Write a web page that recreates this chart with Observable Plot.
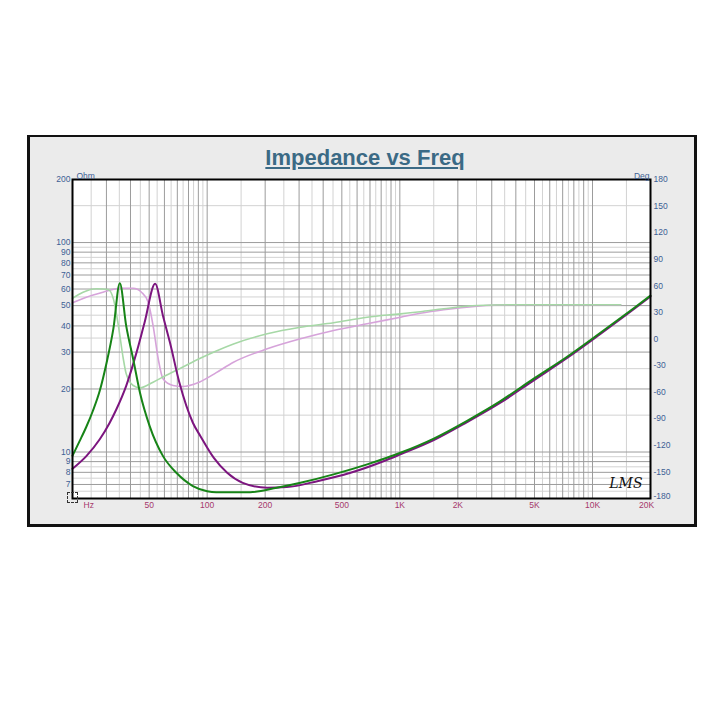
<!DOCTYPE html>
<html><head><meta charset="utf-8">
<script src="https://cdn.jsdelivr.net/npm/d3@7"></script>
<script src="https://cdn.jsdelivr.net/npm/@observablehq/plot@0.6"></script>
<style>
body{margin:0;background:#fff;width:723px;height:727px;position:relative;overflow:hidden;font-family:"Liberation Sans",Arial,sans-serif}
#panel{position:absolute;left:27px;top:135px;width:670px;height:392px;box-sizing:border-box;border:3px solid #111;border-top-width:2px;background:#ebebeb}
#title{position:absolute;left:27px;width:676px;top:145px;line-height:25px;text-align:center;font-weight:bold;font-size:22px;color:#3b6a85;text-decoration:underline}
#chart{position:absolute;left:30px;top:160px}
#icon{position:absolute;left:67px;top:492px;width:9px;height:9px;border:1px dashed #333}
</style></head><body>
<div id="panel"></div>
<div id="title">Impedance vs Freq</div>
<div id="chart"></div>
<div id="icon"></div>
<script>
// Dark green impedance (Hz, Ohm)
const greenHz  = [20, 21.8, 23.6, 25.5, 27.7, 29.9, 32.6, 35.2, 38.0, 41.3, 44.8, 50.3, 59, 69.2, 84.3, 100, 111.5, 167, 230, 305, 453, 677, 1007, 1500, 2234, 3327, 4954, 7382, 10992, 16362, 20000];
const greenOhm = [9.6, 11.3, 13.2, 15.7, 19.6, 26.1, 38.8, 64, 40, 27.8, 19.2, 13.3, 9.56, 7.96, 6.88, 6.5, 6.43, 6.43, 6.75, 7.13, 7.82, 8.73, 9.92, 11.6, 14.1, 17.5, 22.4, 28.5, 37.1, 48.6, 55.8];
// Dark purple impedance (Hz, Ohm)
const purpleHz  = [20, 23.6, 27.7, 31.2, 33.8, 38, 43, 47.3, 53.7, 59, 64.1, 71.8, 84.3, 92.3, 108.3, 127, 153, 205, 259, 373, 555, 829, 1007, 1500, 2234, 3327, 4954, 7382, 10992, 16362, 20000];
const purpleOhm = [8.32, 9.56, 11.5, 13.8, 16.0, 20.7, 29.9, 41.4, 63.5, 44.6, 33.3, 21.4, 13.8, 11.9, 9.37, 7.96, 7.13, 6.75, 6.80, 7.26, 7.96, 9.06, 9.75, 11.4, 13.9, 17.2, 22.0, 28.1, 36.6, 48.0, 55.3];
// Light green phase (Hz, Deg)
const lgHz  = [20, 22.7, 26.6, 30.6, 32.6, 34.6, 36.7, 38, 41.3, 44.8, 52.4, 61, 74.4, 91.5, 111.5, 137, 205, 305, 453, 676, 1009, 1276, 1690, 2520, 3770, 14000];
const lgDeg = [46, 52.8, 56.7, 55.9, 45.4, 15.2, -22.3, -39.3, -52.5, -55.1, -48.7, -41.2, -31.8, -22, -13.5, -5.6, 5.9, 13.3, 18.3, 24.6, 28.4, 30.8, 34.1, 37.8, 38.6, 38.6];
// Light purple phase (Hz, Deg)
const lpHz  = [20, 23.6, 28.8, 35.2, 41.3, 45.6, 49.4, 52.4, 55.7, 59, 66.5, 74.4, 91.5, 111.5, 137, 205, 305, 453, 676, 1009, 1276, 1690, 2520, 3770, 14000];
const lpDeg = [40.8, 47.2, 52.8, 57.3, 57.3, 52.8, 41.5, 15.2, -22.3, -44.9, -52.5, -53.6, -48.5, -38, -26.2, -11.1, 0.2, 9.6, 17.2, 24.6, 29, 33, 37, 38.6, 38.6];

// Tick labels and grid
const hzTicks = [50, 100, 200, 500, 1000, 2000, 5000, 10000];
const hzLabels = ["50", "100", "200", "500", "1K", "2K", "5K", "10K"];
const hzLast = [20000], hzLastLabel = ["20K"];
const ohmTicks = [7, 8, 9, 10, 20, 30, 40, 50, 60, 70, 80, 90, 100, 200];
const degTicks = [180, 150, 120, 90, 60, 30, 0, -30, -60, -90, -120, -150];
const degLast = [-180];
const gridMajorHz = [30,40,50,60,70,80,90,100,200,300,400,500,600,700,800,900,1000,2000,3000,4000,5000,6000,7000,8000,9000,10000];
const gridMinorHz = [25,35,45,55,65,75,85,95,150,250,350,450,550,650,750,850,950,1500,2500,3500,4500,5500,6500,7500,8500,9500,15000];
const gridMajorOhm = [7,8,9,10,20,30,40,50,60,70,80,90,100];
const gridMinorOhm = [6.5,7.5,8.5,9.5,15,25,35,45,55,65,75,85,95,150];

const lo = 6, hi = 200;
const degToOhm = d => lo * Math.pow(hi / lo, (d + 180) / 360);

const mk = (xs, ys) => xs.map((x, i) => ({x, y: ys[i]}));
const green = mk(greenHz, greenOhm);
const purple = mk(purpleHz, purpleOhm);
const lg = mk(lgHz, lgDeg.map(degToOhm));
const lp = mk(lpHz, lpDeg.map(degToOhm));
const blue = "#3d5f95", maroon = "#a6386c";

const chart = Plot.plot({
  width: 660, height: 360,
  marginLeft: 42, marginRight: 40, marginTop: 19, marginBottom: 22,
  style: {fontFamily: "Liberation Sans, Arial, sans-serif", fontSize: "8.5px", background: "transparent", overflow: "visible"},
  x: {type: "log", domain: [20, 20000], axis: null},
  y: {type: "log", domain: [lo, hi], axis: null},
  marks: [
    Plot.frame({fill: "white"}),
    Plot.ruleX(gridMinorHz, {stroke: "#d2d2d2", strokeWidth: 1}),
    Plot.ruleY(gridMinorOhm, {stroke: "#d2d2d2", strokeWidth: 1}),
    Plot.ruleX(gridMajorHz, {stroke: "#9c9c9c", strokeWidth: 1}),
    Plot.ruleY(gridMajorOhm, {stroke: "#9c9c9c", strokeWidth: 1}),
    Plot.line(lp, {x: "x", y: "y", stroke: "#d6a3da", strokeWidth: 1.6, curve: "monotone-x"}),
    Plot.line(lg, {x: "x", y: "y", stroke: "#a6d8a6", strokeWidth: 1.6, curve: "monotone-x"}),
    Plot.line(purple, {x: "x", y: "y", stroke: "#7c157f", strokeWidth: 2, curve: "monotone-x"}),
    Plot.line(green, {x: "x", y: "y", stroke: "#178417", strokeWidth: 2, curve: "monotone-x"}),
    Plot.frame({stroke: "#000", strokeWidth: 2}),
    Plot.text(ohmTicks, {y: d => d, text: d => String(d), frameAnchor: "left", dx: -2, textAnchor: "end", fill: blue}),
    Plot.text(degTicks, {y: d => degToOhm(d), text: d => String(d), frameAnchor: "right", dx: 3, textAnchor: "start", fill: blue}),
    Plot.text(degLast, {y: d => degToOhm(d), text: d => String(d), frameAnchor: "right", dx: 3, dy: -2, textAnchor: "start", fill: blue}),
    Plot.text(hzTicks, {x: d => d, text: (d, i) => hzLabels[i], frameAnchor: "bottom", dy: 9, fill: maroon}),
    Plot.text(hzLast, {x: d => d, text: (d, i) => hzLastLabel[i], frameAnchor: "bottom", dy: 9, dx: -4, fill: maroon}),
    Plot.text(["Hz"], {x: [20], frameAnchor: "bottom", dx: 11, dy: 9, textAnchor: "start", fill: maroon}),
    Plot.text(["Ohm"], {frameAnchor: "top-left", dx: 4, dy: -7, textAnchor: "start", fill: blue}),
    Plot.text(["Deg"], {frameAnchor: "top-right", dx: -1, dy: -7, textAnchor: "end", fill: blue}),
    Plot.text(["LMS"], {frameAnchor: "bottom-right", dx: -8, dy: -11, textAnchor: "end", fontStyle: "italic", fontFamily: "DejaVu Serif", fontSize: 14, fill: "#111"})
  ]
});
document.getElementById("chart").appendChild(chart);
</script>
</body></html>
